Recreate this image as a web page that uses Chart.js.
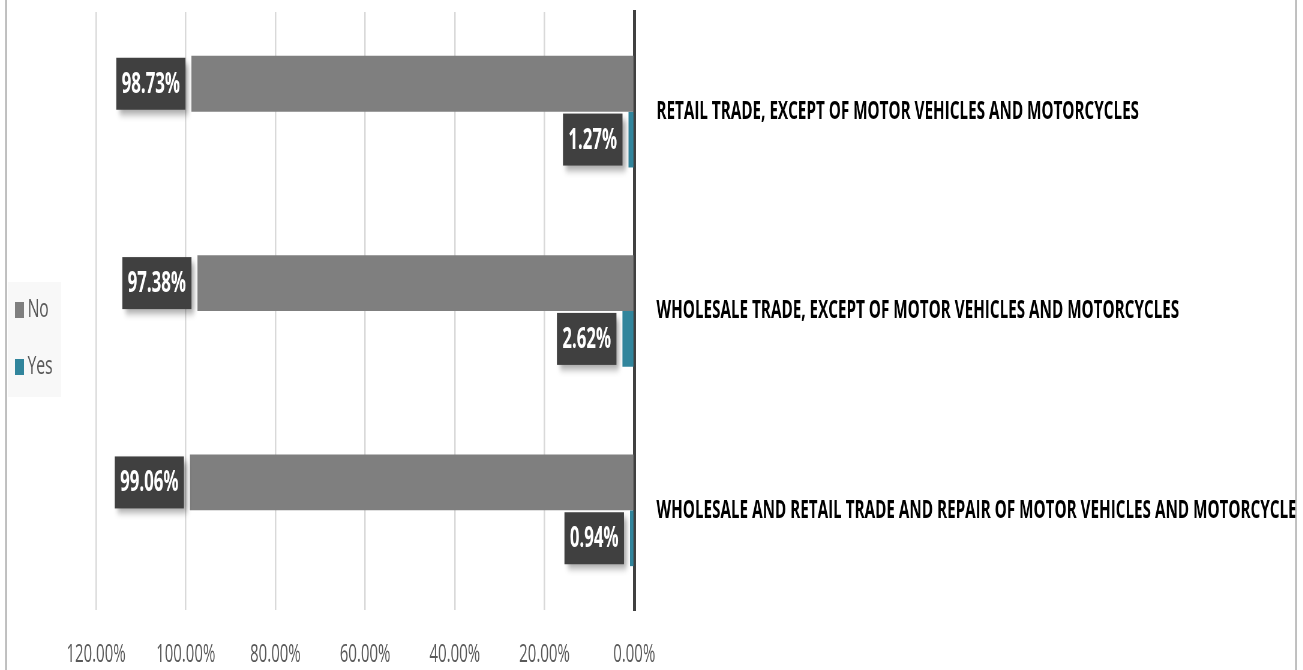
<!DOCTYPE html>
<html>
<head>
<meta charset="utf-8">
<script src="https://cdn.jsdelivr.net/npm/chart.js@4.4.1/dist/chart.umd.min.js"></script>
<style>
  html, body { margin: 0; padding: 0; background: #fff; overflow: hidden; }
  /* the source picture is squeezed horizontally, so draw wide and squeeze */
  #wrap { width: 2172px; height: 670px; transform: scaleX(0.6); transform-origin: 0 0; }
</style>
</head>
<body>
<div id="wrap"><canvas id="chart"></canvas></div>
<script>
const categories = [
  'RETAIL TRADE, EXCEPT OF MOTOR VEHICLES AND MOTORCYCLES',
  'WHOLESALE TRADE, EXCEPT OF MOTOR VEHICLES AND MOTORCYCLES',
  'WHOLESALE AND RETAIL TRADE AND REPAIR OF MOTOR VEHICLES AND MOTORCYCLES'
];
const noValues = [98.73, 97.38, 99.06];
const yesValues = [1.27, 2.62, 0.94];
const xTicks = [0, 20, 40, 60, 80, 100, 120];

const FONT = "'Open Sans', sans-serif";
Chart.defaults.font.family = FONT;

// dark value boxes next to the bar ends
const valueBoxes = {
  id: 'valueBoxes',
  afterDatasetsDraw(chart) {
    const ctx = chart.ctx;
    ctx.save();
    ctx.font = 'bold 28px ' + FONT;
    chart.data.datasets.forEach((ds, i) => {
      chart.getDatasetMeta(i).data.forEach((bar, j) => {
        const txt = ds.data[j].toFixed(2) + '%';
        const w = ctx.measureText(txt).width + 18;
        const h = 52;
        const right = bar.x - 10;
        ctx.shadowColor = 'rgba(0,0,0,0.35)';
        ctx.shadowBlur = 7;
        ctx.shadowOffsetX = 5;
        ctx.shadowOffsetY = 5;
        ctx.fillStyle = '#404040';
        ctx.fillRect(right - w, bar.y - h / 2, w, h);
        ctx.shadowColor = 'transparent';
        ctx.fillStyle = '#fff';
        ctx.textAlign = 'center';
        ctx.textBaseline = 'middle';
        ctx.fillText(txt, right - w / 2, bar.y + 1);
      });
    });
    ctx.restore();
  }
};

// legend box on the left + frame
const sideLegend = {
  id: 'sideLegend',
  afterDraw(chart) {
    const ctx = chart.ctx;
    ctx.save();
    ctx.fillStyle = '#f8f8f8';
    ctx.fillRect(13, 282, 89, 115);
    ctx.font = '26px ' + FONT;
    ctx.textBaseline = 'middle';
    chart.data.datasets.forEach((ds, i) => {
      const y = 310 + i * 57;
      ctx.fillStyle = ds.backgroundColor;
      ctx.fillRect(25, y - 8, 15, 16);
      ctx.fillStyle = '#595959';
      ctx.fillText(ds.label, 46, y);
    });
    ctx.fillStyle = '#fff';
    ctx.fillRect(2162, 0, 10, 670);
    ctx.strokeStyle = '#b4b4b4';
    ctx.lineWidth = 3;
    ctx.beginPath();
    ctx.moveTo(10, 0); ctx.lineTo(10, 670);
    ctx.moveTo(2160, 0); ctx.lineTo(2160, 670);
    ctx.stroke();
    ctx.restore();
  }
};

new Chart(document.getElementById('chart'), {
  type: 'bar',
  data: {
    labels: categories,
    datasets: [
      { label: 'No', data: noValues, backgroundColor: '#7f7f7f' },
      { label: 'Yes', data: yesValues, backgroundColor: '#31859c' }
    ]
  },
  options: {
    indexAxis: 'y',
    responsive: true,
    maintainAspectRatio: false,
    animation: false,
    layout: { padding: { top: 12, left: 160, right: 0, bottom: 0 } },
    datasets: { bar: { categoryPercentage: 0.56, barPercentage: 1.0 } },
    plugins: { legend: { display: false }, tooltip: { enabled: false } },
    scales: {
      x: {
        reverse: true,
        min: 0,
        max: 120,
        afterBuildTicks: (scale) => { scale.ticks = xTicks.map(v => ({ value: v })); },
        afterFit: (scale) => { scale.height = 60; },
        grid: { color: '#d9d9d9', lineWidth: 2.5, drawTicks: false },
        border: { display: false },
        ticks: {
          padding: 30,
          color: '#595959',
          font: { size: 25 },
          callback: (v) => v.toFixed(2) + '%'
        }
      },
      y: {
        position: 'right',
        afterFit: (scale) => {
          scale.width = 1115;
          scale.paddingTop = 0;
          scale.paddingBottom = 0;
        },
        grid: { display: false, drawTicks: false },
        border: { display: true, color: '#404040', width: 5 },
        ticks: {
          padding: 37,
          color: '#000',
          font: { size: 25.4, weight: 'bold' }
        }
      }
    }
  },
  plugins: [valueBoxes, sideLegend]
});
</script>
</body>
</html>
